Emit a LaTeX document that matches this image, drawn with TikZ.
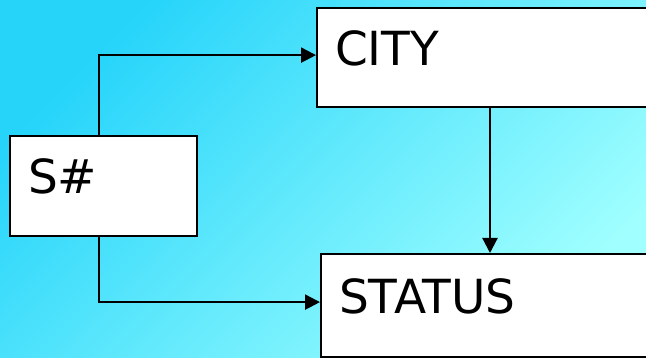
\documentclass[tikz,border=0pt]{standalone}
\usepackage{fontspec}
\setmainfont{DejaVu Sans}
\usetikzlibrary{arrows.meta}
\definecolor{bgA}{HTML}{26D4FA}
\definecolor{bgB}{HTML}{A0FFFF}
\tikzset{
  box/.style={draw=black, line width=2.2pt, fill=white, anchor=north west,
    inner xsep=18pt, inner ysep=0pt, align=left,
    font=\fontsize{47}{47}\selectfont},
  arr/.style={line width=2.2pt, -{Triangle[length=15pt,width=15pt]}}
}
\begin{document}
\begin{tikzpicture}[x=1pt,y=-1pt]
\useasboundingbox (0,0) rectangle (646,358);
\clip (0,0) rectangle (646,358);
\shade[top color=bgA, bottom color=bgB, shading angle=45] (0,0) rectangle (646,358);
\node[box, text width=320pt, text height=57pt, text depth=42pt] (city) at (316,7) {CITY};
\node[box, text width=151pt, text height=57pt, text depth=43pt] (s) at (9,135) {S\#};
\node[box, text width=320pt, text height=59pt, text depth=44pt] (status) at (320,253) {STATUS};
\draw[arr] ([xshift=-4.5pt]s.north) |- ([yshift=2.5pt]city.west);
\draw[arr] ([xshift=-4.5pt]s.south) |- ([yshift=3.5pt]status.west);
\draw[arr] ([xshift=174pt]city.south west) -- ([xshift=170pt]status.north west);
\end{tikzpicture}
\end{document}
